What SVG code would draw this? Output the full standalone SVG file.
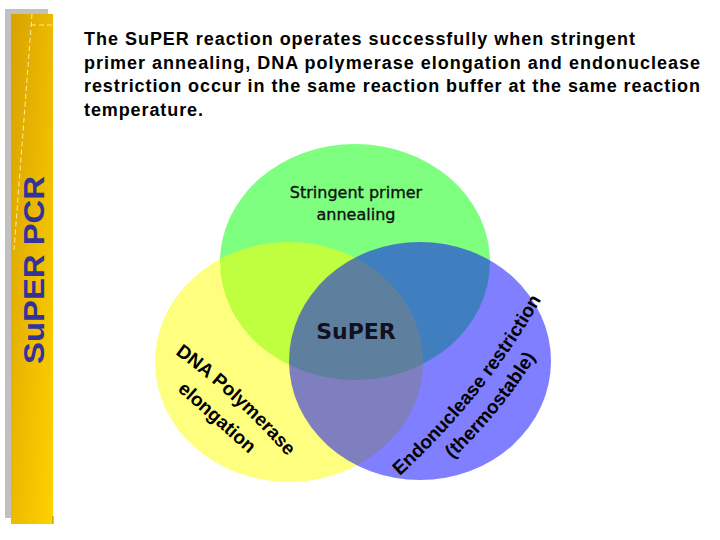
<svg xmlns="http://www.w3.org/2000/svg" width="720" height="540" viewBox="0 0 720 540">
<style>
.title{font-family:"Liberation Sans",Arial,sans-serif;font-weight:bold;font-size:18px;fill:#000}
.lbl{font-family:"Liberation Sans",Arial,sans-serif;font-weight:bold;font-size:19px;fill:#000}
.top{font-family:"DejaVu Sans",Verdana,sans-serif;font-size:16px;fill:#111;stroke:#111;stroke-width:0.35}
.ctr{font-family:"DejaVu Sans",Verdana,sans-serif;font-weight:bold;font-size:22px;fill:#111122}
.side{font-family:"Liberation Sans",Arial,sans-serif;font-weight:bold;font-size:30px;fill:#333399}
.dash{stroke:#FFF3B0;stroke-width:1;stroke-dasharray:5 3;fill:none;opacity:0.9}
</style>
<defs>
<linearGradient id="gold" x1="0" y1="0" x2="1" y2="1" gradientUnits="objectBoundingBox">
<stop offset="0" stop-color="#D8A200"/>
<stop offset="1" stop-color="#FFD200"/>
</linearGradient>
<path id="p1" d="M165.9,347.2 L178,356 Q236.7,398.9 284.6,453.5 L294.5,464.8"/>
<path id="p2" d="M393,482.2 L404,472 Q484,398 538.5,304.7 L546.1,291.7"/>
<path id="p3" d="M444,466.8 L454.9,456.5 Q500.6,413.2 533.9,359.9 L541.9,347.2"/>
</defs>
<rect width="720" height="540" fill="#fff"/>
<g id="sidebar">
<rect x="5" y="9" width="43" height="509" fill="#C0C0C0"/>
<rect x="11" y="14" width="42" height="510" fill="url(#gold)"/>
<line class="dash" x1="31" y1="25" x2="54" y2="25"/>
<line class="dash" x1="32" y1="14" x2="14" y2="250"/>
<line x1="53" y1="516" x2="53" y2="524" stroke="#B08800" stroke-width="1"/>
<text class="side" transform="translate(43.5,270) rotate(-90)" text-anchor="middle" textLength="188" lengthAdjust="spacingAndGlyphs">SuPER PCR</text>
</g>
<g id="title">
<text class="title" x="84" y="45" textLength="551">The SuPER reaction operates successfully when stringent</text>
<text class="title" x="84" y="69" textLength="616">primer annealing, DNA polymerase elongation and endonuclease</text>
<text class="title" x="84" y="92" textLength="616">restriction occur in the same reaction buffer at the same reaction</text>
<text class="title" x="84" y="116" textLength="119">temperature.</text>
</g>
<g id="annealing">
<ellipse cx="355" cy="262" rx="135" ry="118" fill="#00FF00" fill-opacity="0.5"/>
<text class="top" x="356" y="198" text-anchor="middle">Stringent primer</text>
<text class="top" x="356" y="220" text-anchor="middle">annealing</text>
</g>
<g id="elongation">
<ellipse cx="289" cy="362" rx="134" ry="120" fill="#FFFF00" fill-opacity="0.5"/>
<text class="lbl" text-anchor="middle"><textPath href="#p1" startOffset="50%">DNA Polymerase</textPath></text>
<text class="lbl" transform="translate(213,422) rotate(41.5)" text-anchor="middle">elongation</text>
</g>
<g id="restriction">
<ellipse cx="420" cy="361" rx="131" ry="119" fill="#0000FF" fill-opacity="0.5"/>
<text class="lbl" text-anchor="middle"><textPath href="#p2" startOffset="50%">Endonuclease restriction</textPath></text>
<text class="lbl" text-anchor="middle"><textPath href="#p3" startOffset="50%">(thermostable)</textPath></text>
</g>
<g id="super">
<text class="ctr" x="356" y="339" text-anchor="middle">SuPER</text>
</g>
<g id="connectors"></g>
</svg>
